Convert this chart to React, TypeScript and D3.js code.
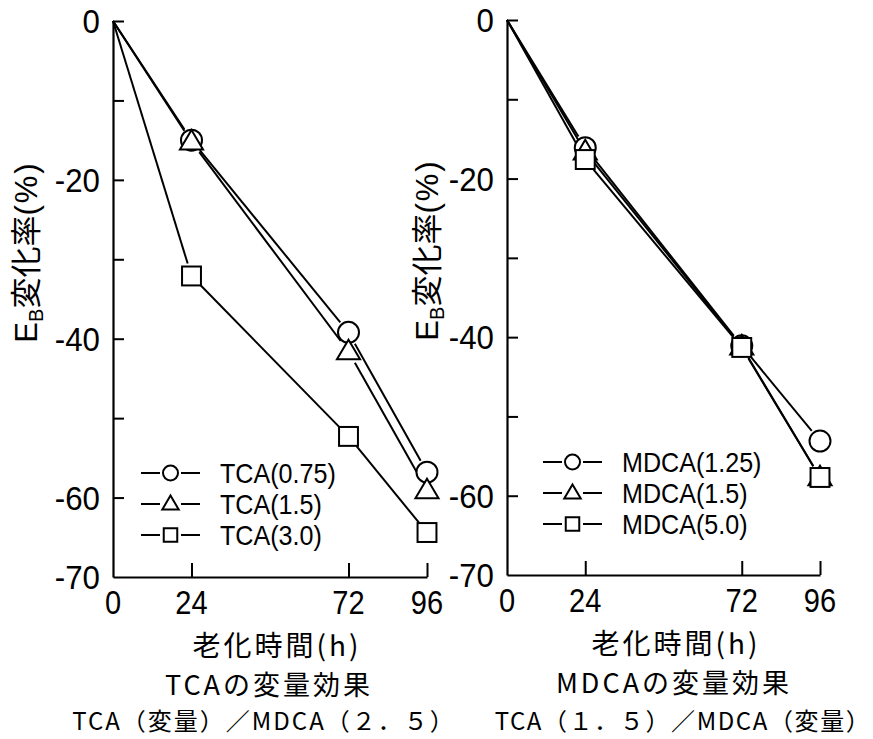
import React, { useEffect, useRef } from 'react';
import * as d3 from 'd3';

// aging time (h)
const hours = [0, 24, 72, 96];

// left panel: TCA varied, MDCA fixed at 2.5
const tcaNames = ['TCA(0.75)', 'TCA(1.5)', 'TCA(3.0)'];
const tca075 = [0, -15.0, -39.2, -56.8];
const tca15 = [0, -15.2, -41.6, -59.1];
const tca30 = [0, -32.1, -52.3, -64.4];

// right panel: MDCA varied, TCA fixed at 1.5
const mdcaNames = ['MDCA(1.25)', 'MDCA(1.5)', 'MDCA(5.0)'];
const mdca125 = [0, -16.1, -41.1, -53.1];
const mdca15 = [0, -16.6, -41.2, -57.7];
const mdca50 = [0, -17.6, -41.3, -57.7];

const xTickValues = [0, 24, 72, 96];
const yTickValues = [0, -10, -20, -30, -40, -50, -60];
const yLabelValues = [0, -20, -40, -60, -70];

const markers = ['circle', 'triangle', 'square'];

const NUM_FONT = '"Liberation Sans", sans-serif';
const JP_FONT = '"Noto Sans CJK JP", sans-serif';

function drawMarker(g, kind, x, y, size) {
    if (kind === 'circle') {
        g.append('circle').attr('cx', x).attr('cy', y).attr('r', size)
            .attr('fill', 'white').attr('stroke', 'black').attr('stroke-width', 2);
    } else if (kind === 'square') {
        const s = size * 0.9;
        g.append('rect').attr('x', x - s).attr('y', y - s).attr('width', 2 * s).attr('height', 2 * s)
            .attr('fill', 'white').attr('stroke', 'black').attr('stroke-width', 2);
    } else {
        const s = size * 1.1;
        const h = s * 1.7;
        const pts = [[x, y - h * 0.6], [x + s, y + h * 0.4], [x - s, y + h * 0.4]];
        g.append('path').attr('d', 'M' + pts.join('L') + 'Z')
            .attr('fill', 'white').attr('stroke', 'black').attr('stroke-width', 2);
    }
}

// narrow lettering like the original
function numText(g, x, y, size, sx, anchor, str) {
    return g.append('text')
        .attr('transform', 'translate(' + x + ',' + y + ') scale(' + sx + ',1)')
        .attr('text-anchor', anchor).attr('font-family', NUM_FONT).attr('font-size', size)
        .text(str);
}

function drawPanel(svg, p) {
    const x = d3.scaleLinear().domain([0, 96]).range([p.x0, p.x1]);
    const y = d3.scaleLinear().domain([0, -70]).range([p.y0, p.y1]);
    const g = svg.append('g');

    // y axis, ticks pointing inward
    const yAxis = d3.axisLeft(y).tickValues(yTickValues).tickSizeInner(-11).tickSizeOuter(0).tickFormat(() => '');
    const ya = g.append('g').attr('transform', 'translate(' + p.x0 + ',0)').call(yAxis);
    ya.select('.domain').attr('stroke-width', 2.2);
    ya.selectAll('line').attr('stroke-width', 2);

    // x axis, ticks pointing up
    const xAxis = d3.axisBottom(x).tickValues(xTickValues.filter(v => v > 0)).tickSizeInner(-14).tickSizeOuter(0).tickFormat(() => '');
    const xa = g.append('g').attr('transform', 'translate(0,' + p.y1 + ')').call(xAxis);
    xa.select('.domain').attr('stroke-width', 2.2);
    xa.selectAll('line').attr('stroke-width', 2);

    yLabelValues.forEach(d => numText(g, p.x0 - 13, y(d) + 12, 34, 0.92, 'end', String(d)));
    xTickValues.forEach(d => numText(g, x(d), p.y1 + 37, 33, 0.88, 'middle', String(d)));

    // series lines, broken short of the open markers
    const gap = 13;
    p.series.forEach((vals) => {
        for (let i = 0; i < hours.length - 1; i++) {
            const ax = x(hours[i]), ay = y(vals[i]);
            const bx = x(hours[i + 1]), by = y(vals[i + 1]);
            const len = Math.hypot(bx - ax, by - ay);
            const ux = (bx - ax) / len, uy = (by - ay) / len;
            const s0 = i === 0 ? 0 : gap;
            g.append('path')
                .attr('d', d3.line()([[ax + ux * s0, ay + uy * s0], [bx - ux * gap, by - uy * gap]]))
                .attr('stroke', 'black').attr('stroke-width', 2).attr('fill', 'none');
        }
    });
    p.series.forEach((vals, k) => {
        hours.forEach((h, i) => {
            if (i > 0) drawMarker(g, markers[k], x(h), y(vals[i]), 10.5);
        });
    });

    // legend
    p.names.forEach((name, k) => {
        const ly = p.legY + k * 31;
        g.append('line').attr('x1', p.legX).attr('x2', p.legX + 19).attr('y1', ly).attr('y2', ly)
            .attr('stroke', 'black').attr('stroke-width', 2);
        g.append('line').attr('x1', p.legX + 40).attr('x2', p.legX + 59).attr('y1', ly).attr('y2', ly)
            .attr('stroke', 'black').attr('stroke-width', 2);
        drawMarker(g, markers[k], p.legX + 29.5, ly, 7.5);
        numText(g, p.legX + 79, ly + 10, 27, 0.93, 'start', name);
    });

    // y axis title
    const yt = g.append('text')
        .attr('transform', 'translate(' + p.ytX + ',' + p.ytY + ') rotate(-90)')
        .attr('text-anchor', 'middle').attr('font-size', 31);
    yt.append('tspan').attr('font-family', NUM_FONT).text('E');
    yt.append('tspan').attr('font-family', NUM_FONT).attr('font-size', 20).attr('dy', 6).text('B');
    yt.append('tspan').attr('font-family', JP_FONT).attr('dy', -6).text('変化率');
    yt.append('tspan').attr('font-family', NUM_FONT).attr('letter-spacing', 2).text('(%)');

    // captions
    p.captions.forEach((c) => {
        g.append('text').attr('x', c.x).attr('y', c.y).attr('text-anchor', 'middle')
            .attr('font-family', JP_FONT).attr('font-size', c.s).attr('letter-spacing', c.ls)
            .text(c.t);
    });
}

export default function App() {
    const ref = useRef(null);

    useEffect(() => {
        const svg = d3.select(ref.current);
        svg.selectAll('*').remove();
        drawPanel(svg, {
            x0: 113, x1: 427, y0: 21, y1: 577,
            series: [tca075, tca15, tca30], names: tcaNames,
            legX: 141, legY: 473, ytX: 37, ytY: 252,
            captions: [
                { x: 277, y: 656, s: 28, ls: 3, t: '老化時間(h)' },
                { x: 269, y: 695, s: 27, ls: 3, t: 'TCAの変量効果' },
                { x: 264, y: 730, s: 24, ls: 2, t: 'TCA（変量）／MDCA（２．５）' },
            ],
        });
        drawPanel(svg, {
            x0: 507, x1: 820, y0: 20, y1: 575,
            series: [mdca125, mdca15, mdca50], names: mdcaNames,
            legX: 543, legY: 462, ytX: 438, ytY: 250,
            captions: [
                { x: 676, y: 654, s: 28, ls: 3, t: '老化時間(h)' },
                { x: 674, y: 693, s: 27, ls: 3, t: 'MDCAの変量効果' },
                { x: 683, y: 730, s: 24, ls: 1.6, t: 'TCA（１．５）／MDCA（変量）' },
            ],
        });
    }, []);

    return (
        <svg ref={ref} width={873} height={739}
            style={{ position: 'absolute', left: 0, top: 0, background: 'white' }} />
    );
}
